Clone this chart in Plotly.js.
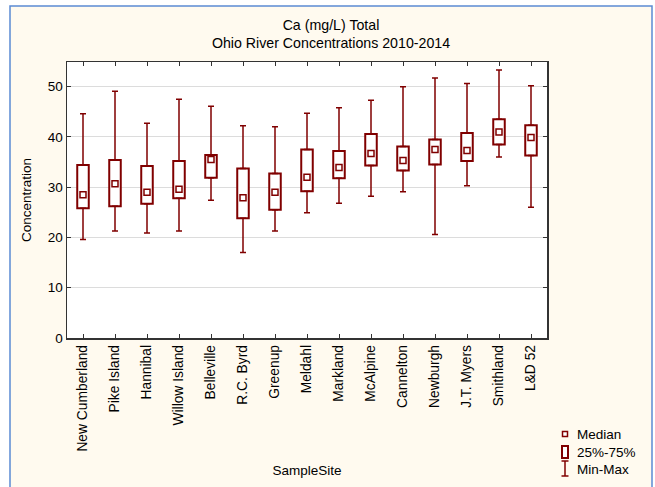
<!DOCTYPE html>
<html><head><meta charset="utf-8">
<script src="https://cdn.plot.ly/plotly-3.0.1.min.js"></script>
<style>html,body{margin:0;padding:0;background:#fff}#chart{width:655px;height:487px}</style>
</head><body><div id="chart"></div>
<script>
const sites = ["New Cumberland","Pike Island","Hannibal","Willow Island","Belleville","R.C. Byrd","Greenup","Meldahl","Markland","McAlpine","Cannelton","Newburgh","J.T. Myers","Smithland","L&D 52"];
const minV   = [19.6,21.3,20.9,21.3,27.4,17.0,21.3,24.9,26.8,28.2,29.1,20.6,30.3,36.0,26.0];
const q1     = [25.8,26.2,26.7,27.8,31.9,23.8,25.5,29.2,31.8,34.3,33.3,34.5,35.2,38.5,36.3];
const median = [28.5,30.7,29.0,29.6,35.5,27.9,29.0,32.0,33.9,36.7,35.3,37.5,37.3,41.0,39.9];
const q3     = [34.4,35.4,34.2,35.2,36.4,33.7,32.7,37.5,37.2,40.6,38.1,39.5,40.8,43.5,42.3];
const maxV   = [44.6,49.1,42.7,47.5,46.1,42.2,42.0,44.7,45.8,47.3,50.0,51.7,50.6,53.3,50.2];
const yTicks = [0,10,20,30,40,50];

const RED = "#800000";
const FONT = "Liberation Sans, Arial, sans-serif";

// plot area in pixels
const L = 67, R = 547, T = 62, B = 338, W = 655, H = 487;
const px = x => (x - L) / (R - L);
const py = y => (B - y) / (B - T);

const traces = [
  { type: "bar", x: sites, base: q1, y: q3.map((v, i) => v - q1[i]), width: 0.36,
    marker: { color: "#ffffff", line: { color: RED, width: 2 } }, showlegend: false, hoverinfo: "skip" },
  { type: "scatter", mode: "markers", x: sites, y: q3, marker: { opacity: 0, size: 2 },
    error_y: { type: "data", symmetric: false, array: maxV.map((v, i) => v - q3[i]), arrayminus: q3.map(() => 0),
      color: RED, thickness: 1.5, width: 3 }, showlegend: false, hoverinfo: "skip" },
  { type: "scatter", mode: "markers", x: sites, y: q1, marker: { opacity: 0, size: 2 },
    error_y: { type: "data", symmetric: false, array: q1.map(() => 0), arrayminus: q1.map((v, i) => v - minV[i]),
      color: RED, thickness: 1.5, width: 3 }, showlegend: false, hoverinfo: "skip" },
  { type: "scatter", mode: "markers", x: sites, y: median,
    marker: { symbol: "square", size: 6, color: "#ffffff", line: { color: RED, width: 1.5 } }, showlegend: false }
];

const shapes = [
  // white strips outside the frame
  { type: "rect", xref: "paper", yref: "paper", x0: px(0), x1: px(10), y0: py(H), y1: py(0), fillcolor: "#ffffff", line: { width: 0 }, layer: "below" },
  { type: "rect", xref: "paper", yref: "paper", x0: px(0), x1: px(W), y0: py(6), y1: py(0), fillcolor: "#ffffff", line: { width: 0 }, layer: "below" },
  { type: "rect", xref: "paper", yref: "paper", x0: px(652), x1: px(W), y0: py(H), y1: py(0), fillcolor: "#ffffff", line: { width: 0 }, layer: "below" },
  // blue frame
  { type: "path", xref: "paper", yref: "paper",
    path: `M ${px(10)} ${py(H + 5)} L ${px(10)} ${py(6)} L ${px(652)} ${py(6)} L ${px(652)} ${py(H + 5)}`,
    line: { color: "#5B8BD3", width: 1.5 }, layer: "above" },
  // legend icons
  { type: "rect", xref: "paper", yref: "paper", x0: px(562.5), x1: px(567.5), y0: py(436.5), y1: py(431.5), fillcolor: "#ffffff", line: { color: RED, width: 1.5 } },
  { type: "rect", xref: "paper", yref: "paper", x0: px(562), x1: px(568), y0: py(458), y1: py(446), fillcolor: "#ffffff", line: { color: RED, width: 2 } },
  { type: "line", xref: "paper", yref: "paper", x0: px(565), x1: px(565), y0: py(476), y1: py(461), line: { color: RED, width: 1.5 } },
  { type: "line", xref: "paper", yref: "paper", x0: px(561.5), x1: px(568.5), y0: py(461), y1: py(461), line: { color: RED, width: 1.5 } },
  { type: "line", xref: "paper", yref: "paper", x0: px(561.5), x1: px(568.5), y0: py(476), y1: py(476), line: { color: RED, width: 1.5 } }
];

const legendText = (t, y) => ({ xref: "paper", yref: "paper", x: px(575), y: py(y), text: t, showarrow: false,
  xanchor: "left", yanchor: "middle", font: { family: FONT, size: 13.5, color: "#000" } });

const layout = {
  width: W, height: H,
  margin: { l: L, r: W - R, t: T, b: H - B, pad: 0 },
  paper_bgcolor: "#FFFAEF",
  plot_bgcolor: "#ffffff",
  showlegend: false,
  font: { family: FONT, size: 13, color: "#000" },
  title: { text: "Ca (mg/L) Total<br>Ohio River Concentrations 2010-2014", xref: "container", x: 331 / W, xanchor: "center",
    yref: "container", y: 1 - 30 / H, yanchor: "top", font: { family: FONT, size: 14.2, color: "#000" } },
  xaxis: {
    type: "category", categoryorder: "array", categoryarray: sites, range: [-0.5, 14.5],
    tickangle: -90, ticks: "inside", ticklen: 4, tickcolor: "#333", tickwidth: 1,
    showline: true, linecolor: "#333", linewidth: 1.5, mirror: "ticks", showgrid: false,
    tickfont: { family: FONT, size: 13.8, color: "#000" }, automargin: false,
    title: { text: "SampleSite", standoff: 15, font: { family: FONT, size: 13.5, color: "#000" } }
  },
  yaxis: {
    range: [0, 54.9], tickvals: yTicks, ticks: "inside", ticklen: 4, tickcolor: "#333", tickwidth: 1,
    showline: true, linecolor: "#333", linewidth: 1.5, mirror: "ticks",
    showgrid: true, gridcolor: "#DCDCDC", gridwidth: 1, zeroline: false,
    tickfont: { family: FONT, size: 13.5, color: "#000" }, automargin: false,
    title: { text: "Concentration", standoff: 13, font: { family: FONT, size: 13.5, color: "#000" } }
  },
  bargap: 0,
  shapes: shapes,
  annotations: [legendText("Median", 434), legendText("25%-75%", 452), legendText("Min-Max", 469)]
};

Plotly.newPlot("chart", traces, layout, { staticPlot: true, displayModeBar: false });
</script>
</body></html>
